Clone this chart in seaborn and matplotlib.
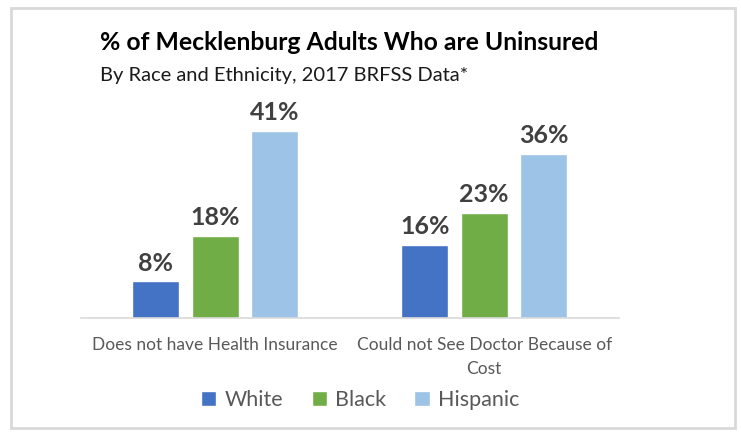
import matplotlib
matplotlib.use("Agg")
import matplotlib.pyplot as plt
import seaborn as sns
import pandas as pd
from matplotlib.patches import Rectangle

categories = ["Does not have Health Insurance", "Could not See Doctor Because of\nCost"]
groups = ["White", "Black", "Hispanic"]
white = [8, 16]
black = [18, 23]
hispanic = [41, 36]
colors = ["#4472C4", "#70AD47", "#9DC3E6"]

rows = []
for g, vals in zip(groups, [white, black, hispanic]):
    for c, v in zip(categories, vals):
        rows.append({"Measure": c, "Group": g, "Value": v})
df = pd.DataFrame(rows)

sns.set_style("white")
plt.rcParams["font.family"] = ["Lato", "DejaVu Sans"]

fig = plt.figure(figsize=(7.41, 4.32), dpi=100)
ax = fig.add_axes([0.1089, 0.2639, 0.7261, 0.4759])

sns.barplot(data=df, x="Measure", y="Value", hue="Group", order=categories,
            hue_order=groups, palette=colors, width=0.664, gap=0.21,
            saturation=1, ax=ax, legend=True)

ax.set_xlim(-0.5, 1.5)
ax.set_ylim(0, 45)
ax.set_yticks([])
ax.set_xlabel("")
ax.set_ylabel("")
for s in ["top", "right", "left"]:
    ax.spines[s].set_visible(False)
ax.spines["bottom"].set_color("#D9D9D9")
ax.spines["bottom"].set_linewidth(1.2)
ax.tick_params(axis="x", length=0, pad=14, labelsize=12.5, labelcolor="#595959")
for lbl in ax.get_xticklabels():
    lbl.set_linespacing(1.55)

for cont in ax.containers:
    ax.bar_label(cont, labels=[f"{int(v)}%" for v in cont.datavalues],
                 padding=5, fontsize=18, fontweight="bold", color="#404040")

leg = ax.legend(loc="upper center", bbox_to_anchor=(0.52, -0.255), ncol=3,
                frameon=False, fontsize=15.5, handlelength=0.7, handleheight=0.7,
                handletextpad=0.4, columnspacing=1.3)
for t in leg.get_texts():
    t.set_color("#595959")

fig.text(100 / 741, 1 - 43 / 432, "% of Mecklenburg Adults Who are Uninsured",
         fontsize=17.8, fontweight="bold", color="black", va="center", ha="left")
fig.text(100 / 741, 1 - 76 / 432, "By Race and Ethnicity, 2017 BRFSS Data*",
         fontsize=14.5, color="#1a1a1a", va="center", ha="left")

fig.patches.append(Rectangle((11 / 741, 1 - 428 / 432), 724 / 741, 420 / 432,
                             transform=fig.transFigure, fill=False,
                             edgecolor="#D9D9D9", linewidth=2))

fig.savefig("out.png", dpi=100)
